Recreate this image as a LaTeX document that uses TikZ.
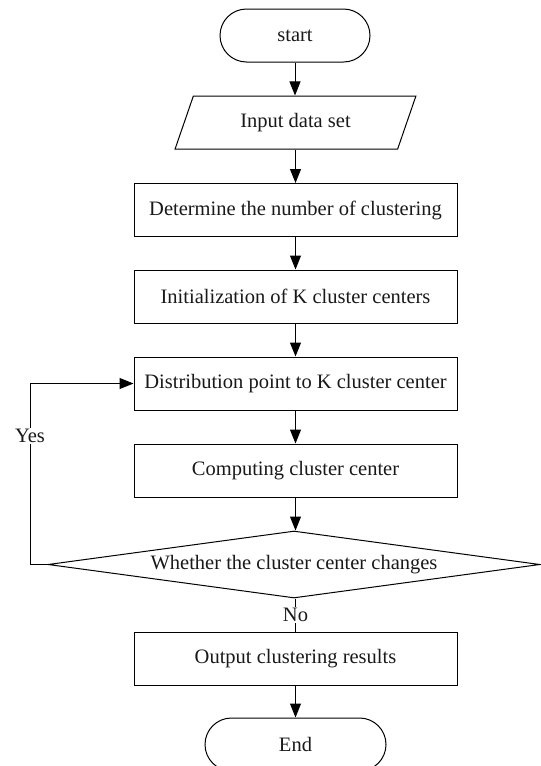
\documentclass[tikz,border=0pt]{standalone}
\usepackage{fontspec}
\setmainfont{Liberation Serif}
\usetikzlibrary{shapes.geometric,arrows.meta}
\begin{document}
\begin{tikzpicture}[x=1pt,y=-1pt,
  every node/.style={font=\fontsize{20.5}{23}\selectfont, text=black!90},
  proc/.style={draw, line width=1pt, rectangle, minimum width=323pt, minimum height=53pt, inner sep=0pt},
  term/.style={draw, line width=1pt, rectangle, rounded corners=26.5pt, minimum height=53pt, inner sep=0pt},
  io/.style={draw, line width=1pt, trapezium, trapezium left angle=62, trapezium right angle=118, trapezium stretches=true, minimum width=241pt, minimum height=53pt, inner sep=0pt},
  dec/.style={draw, line width=1pt, diamond, shape aspect=7.3, minimum width=492pt, minimum height=67pt, inner sep=0pt},
  arr/.style={line width=1pt, -{Triangle[length=14pt,width=11pt]}},
  lbl/.style={fill=white, inner sep=1pt}]
\useasboundingbox (0,0) rectangle (541,766);
\node[term, minimum width=150pt] (start) at (295,35.5) {start};
\node[io] (input) at (295.5,122.5) {Input data set};
\node[proc] (det) at (295.5,210) {Determine the number of clustering};
\node[proc] (init) at (295.5,296.5) {Initialization of K cluster centers};
\node[proc] (dist) at (295.5,383.5) {Distribution point to K cluster center};
\node[proc] (comp) at (295.5,470.5) {Computing cluster center};
\node[dec] (chg) at (294,564.5) {Whether the cluster center changes};
\node[proc] (out) at (295.5,658.5) {Output clustering results};
\node[term, minimum width=181pt] (end) at (295.5,744.5) {End};
\coordinate (lp) at (30,564.5);
\draw[arr] (start.south) -- (start.south |- input.north);
\draw[arr] (input.south) -- (input.south |- det.north);
\draw[arr] (det) -- (init);
\draw[arr] (init) -- (dist);
\draw[arr] (dist) -- (comp);
\draw[arr] (comp.south) -- (comp.south |- chg.north);
\draw[line width=1pt] (chg.south -| out.north) -- node[lbl]{No} (out.north);
\draw[arr] (out) -- (end);
\draw[arr] (chg.west) -- (lp) -- node[lbl, pos=0.71]{Yes} (lp |- dist.west) -- (dist.west);
\end{tikzpicture}
\end{document}
